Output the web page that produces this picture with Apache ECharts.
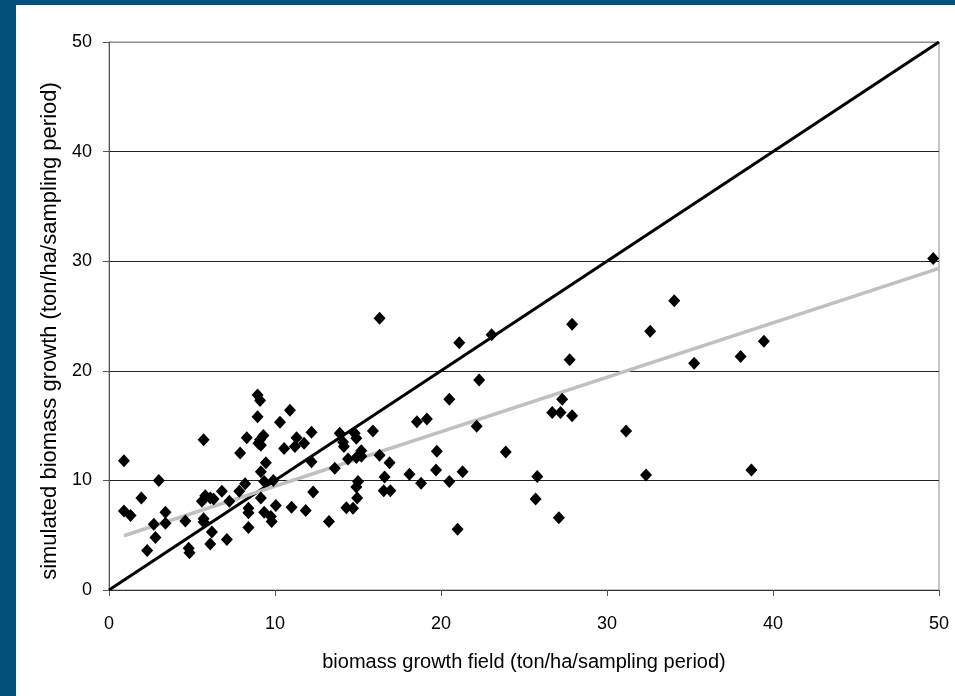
<!DOCTYPE html>
<html>
<head>
<meta charset="utf-8">
<script src="https://cdn.jsdelivr.net/npm/echarts@6/dist/echarts.min.js"></script>
<style>
html,body{margin:0;padding:0;background:#03507d;}
#chart{width:955px;height:696px;}
</style>
</head>
<body>
<div id="chart"></div>
<script>
// biomass growth field (ton/ha/sampling period)
const fieldX = [0.9,3.0,5.7,1.95,0.9,1.3,3.4,2.7,3.4,2.8,2.3,4.8,4.85,4.6,5.8,6.1,6.3,5.6,5.7,5.7,6.2,6.1,7.1,6.8,7.25,7.85,8.2,8.4,8.4,8.4,7.9,8.3,8.95,9.1,8.95,9.3,9.1,9.0,9.15,9.45,9.15,9.35,9.9,9.15,9.35,9.75,9.8,10.05,10.3,10.9,10.55,11.3,11.2,11.75,12.2,12.2,12.3,11.0,11.85,13.25,13.6,13.9,14.1,14.15,14.8,14.9,15.9,15.2,14.4,14.9,15.2,16.3,16.9,15.0,14.9,14.95,14.3,14.7,16.6,16.55,16.95,16.3,18.55,19.15,18.1,18.8,19.75,19.7,20.5,20.5,21.1,21.3,21.0,22.15,22.3,23.05,23.9,25.8,25.7,26.7,27.2,27.3,27.9,27.75,27.9,27.1,31.15,32.35,32.6,34.05,35.25,38.05,38.7,39.45,49.65];
// simulated biomass growth (ton/ha/sampling period)
const simY = [11.8,10.0,13.7,8.4,7.2,6.8,7.1,6.0,6.1,4.8,3.6,3.8,3.4,6.3,8.6,8.4,8.3,8.1,6.5,6.2,5.3,4.2,4.6,9.0,8.1,9.0,9.7,7.45,7.05,5.7,12.5,13.9,17.8,17.3,15.8,14.1,13.7,13.4,13.2,11.6,10.8,9.9,10.0,8.4,7.1,6.7,6.25,7.7,15.3,16.4,12.9,13.9,13.1,13.4,14.4,11.7,8.95,7.55,7.25,6.25,11.1,14.3,13.5,13.1,14.3,13.85,14.5,12.7,11.95,12.1,12.2,12.3,11.6,9.9,9.4,8.4,7.5,7.45,10.3,9.05,9.05,24.8,15.35,15.6,10.55,9.75,12.65,10.95,17.4,9.9,22.55,10.8,5.55,14.95,19.15,23.3,12.6,10.35,8.3,16.2,16.2,17.4,15.9,21.0,24.25,6.6,14.5,10.5,23.6,26.4,20.7,21.3,10.95,22.7,30.25];
// 1:1 line
const identityX = [0, 50];
const identityY = [0, 50];
// linear trend line
const trendX = [0.9, 50];
const trendY = [4.95, 29.35];
const xTicks = [0, 10, 20, 30, 40, 50];
const yTicks = [0, 10, 20, 30, 40, 50];

const font = "'Liberation Sans', Arial, sans-serif";
const chart = echarts.init(document.getElementById('chart'), null, {renderer: 'canvas'});
chart.setOption({
  backgroundColor: '#03507d',
  animation: false,
  graphic: [{
    type: 'rect', z: -10, silent: true,
    shape: {x: 16, y: 5, width: 939, height: 691},
    style: {fill: '#ffffff'}
  }],
  grid: {left: 109, right: 16, top: 42, bottom: 106, show: true, borderColor: '#8c8c8c', borderWidth: 1},
  xAxis: {
    type: 'value', min: xTicks[0], max: xTicks[xTicks.length-1], interval: xTicks[1]-xTicks[0],
    name: 'biomass growth field (ton/ha/sampling period)',
    nameLocation: 'middle', nameGap: 62,
    nameTextStyle: {fontFamily: font, fontSize: 20, color: '#000'},
    axisLine: {onZero: false, lineStyle: {color: '#333', width: 1}},
    axisTick: {show: true, inside: false, length: 6, lineStyle: {color: '#555'}},
    axisLabel: {fontFamily: font, fontSize: 18, color: '#000', margin: 25},
    splitLine: {show: false}
  },
  yAxis: {
    type: 'value', min: yTicks[0], max: yTicks[yTicks.length-1], interval: yTicks[1]-yTicks[0],
    name: 'simulated biomass growth (ton/ha/sampling period)',
    nameLocation: 'middle', nameGap: 31, nameRotate: 90,
    nameTextStyle: {fontFamily: font, fontSize: 22, color: '#000', padding: [0, 30, 0, 0]},
    axisLine: {onZero: false, lineStyle: {color: '#555', width: 1}},
    axisTick: {show: true, inside: false, length: 6, lineStyle: {color: '#555'}},
    axisLabel: {fontFamily: font, fontSize: 18, color: '#000', margin: 17},
    splitLine: {show: true, lineStyle: {color: ['#222', '#222', '#222', '#222', '#222', '#8c8c8c'], width: 1}}
  },
  series: [
    {
      type: 'line', data: identityX.map((x, i) => [x, identityY[i]]),
      symbol: 'none', lineStyle: {color: '#000', width: 3}, z: 3, silent: true
    },
    {
      type: 'line', data: trendX.map((x, i) => [x, trendY[i]]),
      symbol: 'none', lineStyle: {color: '#c0c0c0', width: 3.5}, z: 4, silent: true
    },
    {
      type: 'scatter', data: fieldX.map((x, i) => [x, simY[i]]),
      symbol: 'diamond', symbolSize: [12, 13],
      itemStyle: {color: '#000', opacity: 1}, z: 5
    }
  ]
});
</script>
</body>
</html>
